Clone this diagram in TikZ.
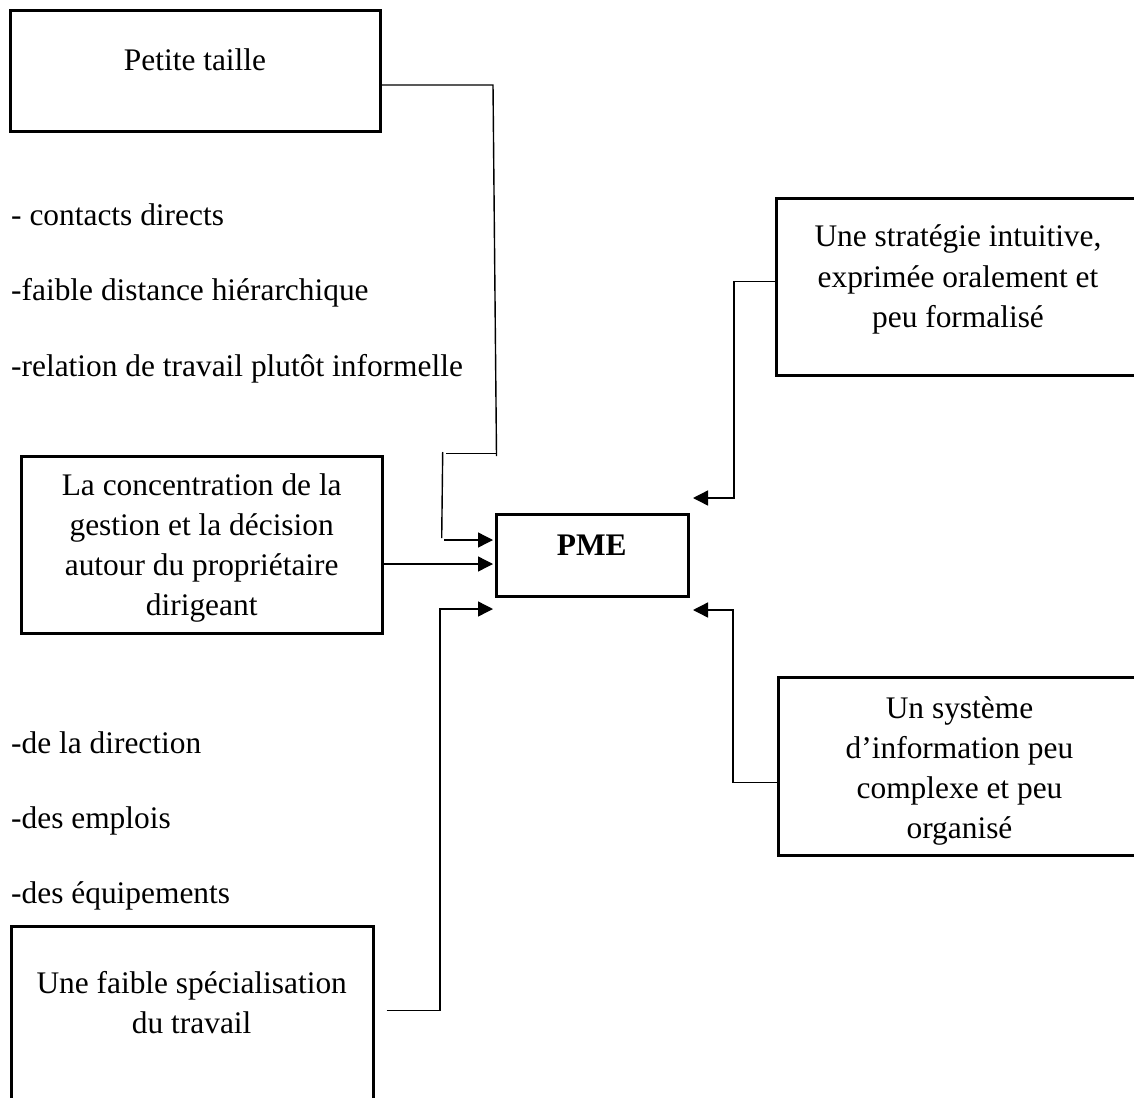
\documentclass[tikz,border=0pt]{standalone}
\usepackage{fontspec}
\setmainfont{Liberation Serif}
\usetikzlibrary{arrows.meta}
\newcommand\bxt[1]{\parbox[t]{360pt}{\centering #1}}
\begin{document}
\begin{tikzpicture}[x=1pt,y=-1pt,
  box/.style={draw=black,line width=3pt,inner sep=0pt,rectangle},
  txt/.style={inner sep=0pt,font=\fontsize{31.4}{40.3}\selectfont},
  conn/.style={draw=black,line width=1.4pt},
  arr/.style={conn,-{Triangle[length=15pt,width=15pt]}}]
\useasboundingbox (0,0) rectangle (1134,1097);
\fill[white] (0,0) rectangle (1134,1097);
\clip (0,0) rectangle (1134,1097);
% boxes
\node[box,minimum width=370pt,minimum height=120pt] (PT) at (195,71) {};
\node[box,minimum width=361pt,minimum height=177pt] (CONC) at (201.5,544.5) {};
\node[box,minimum width=362pt,minimum height=194pt] (FS) at (192,1023) {};
\node[box,minimum width=364pt,minimum height=177pt] (STRAT) at (958,286.5) {};
\node[box,minimum width=363pt,minimum height=178pt] (SI) at (959.5,766) {};
\node[box,minimum width=192pt,minimum height=82pt] (PME) at (592,555) {};
% box texts
\node[txt,anchor=base] (PTt) at (195,71) {\bxt{Petite taille}};
\node[txt,anchor=base] (CONCt) at (201.7,495) {\bxt{La concentration de la\\gestion et la décision\\autour du propriétaire\\dirigeant}};
\node[txt,anchor=base] (FSt) at (191.7,993) {\bxt{Une faible spécialisation\\du travail}};
\node[txt,anchor=base] (STRATt) at (958,246.7) {\bxt{Une stratégie intuitive,\\exprimée oralement et\\peu formalisé}};
\node[txt,anchor=base] (SIt) at (959.5,718) {\bxt{Un système\\d’information peu\\complexe et peu\\organisé}};
\node[txt,anchor=base] (PMEt) at (591.7,555) {\textbf{PME}};
% lists
\node[txt,anchor=base west] (l1) at (11,225) {- contacts directs};
\node[txt,anchor=base west] (l2) at (11,300) {-faible distance hiérarchique};
\node[txt,anchor=base west] (l3) at (11,376) {-relation de travail plutôt informelle};
\node[txt,anchor=base west] (l4) at (11,753) {-de la direction};
\node[txt,anchor=base west] (l5) at (11,828) {-des emplois};
\node[txt,anchor=base west] (l6) at (11,903) {-des équipements};
% connector coordinates
\coordinate (p1) at (493,85);
\coordinate (p2) at (496.5,456);
\coordinate (p3) at (446,453.7);
\coordinate (p4) at (497,453.7);
\coordinate (p5) at (442.7,452);
\coordinate (p6) at (441.7,538);
\coordinate (p7) at (444,540);
\coordinate (t1) at (493,540);
\coordinate (t2) at (493,564);
\coordinate (t3) at (493,609);
\coordinate (f1) at (386.7,1010.7);
\coordinate (f2) at (440,1010.7);
\coordinate (f3) at (440,609);
\coordinate (s1) at (734,281.7);
\coordinate (s2) at (734,498);
\coordinate (t4) at (693,498);
\coordinate (i1) at (733,782.7);
\coordinate (i2) at (733,610);
\coordinate (t5) at (693,610);
% connectors
\draw[conn] ([yshift=-14pt]PT.east) -- (p1) -- (p2);
\draw[conn] (p3) -- (p4);
\draw[conn] (p5) -- (p6);
\draw[arr] (p7) -- (t1);
\draw[arr] ([yshift=-19.5pt]CONC.east) -- (t2);
\draw[conn] (f1) -- (f2);
\draw[arr] (f2) -- (f3) -- (t3);
\draw[arr] (STRAT.west |- s1) -- (s1) -- (s2) -- (t4);
\draw[arr] (SI.west |- i1) -- (i1) -- (i2) -- (t5);
\end{tikzpicture}
\end{document}
